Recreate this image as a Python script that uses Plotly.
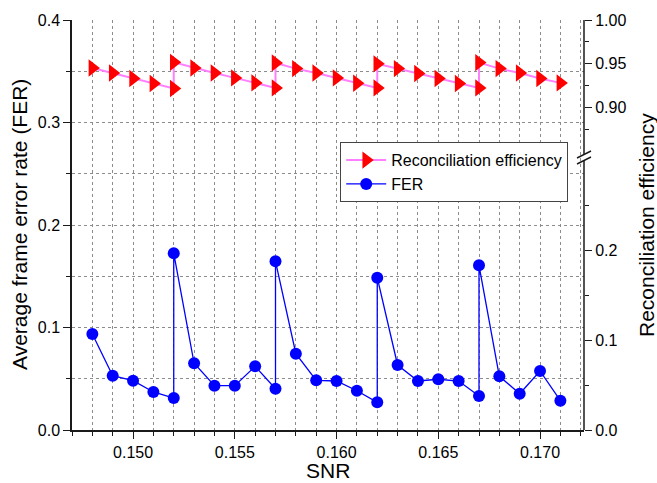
import plotly.graph_objects as go

# ---------------- data ----------------
snr = [0.148, 0.149, 0.150, 0.151, 0.152, 0.152, 0.153, 0.154, 0.155, 0.156,
       0.157, 0.157, 0.158, 0.159, 0.160, 0.161, 0.162, 0.162, 0.163, 0.164,
       0.165, 0.166, 0.167, 0.167, 0.168, 0.169, 0.170, 0.171]
fer = [0.0937, 0.0530, 0.0481, 0.0371, 0.0312, 0.1724, 0.0651, 0.0432, 0.0432, 0.0621,
       0.0403, 0.1646, 0.0744, 0.0485, 0.0478, 0.0383, 0.0270, 0.1486, 0.0634, 0.0478,
       0.0495, 0.0478, 0.0332, 0.1607, 0.0524, 0.0354, 0.0576, 0.0286]
eff = [0.9452, 0.9395, 0.9332, 0.9275, 0.9218, 0.9517, 0.9452, 0.9395, 0.9339, 0.9282,
       0.9225, 0.9510, 0.9445, 0.9395, 0.9339, 0.9278, 0.9225, 0.9500, 0.9445, 0.9389,
       0.9332, 0.9275, 0.9225, 0.9514, 0.9445, 0.9395, 0.9332, 0.9282]

x_ticks = [0.150, 0.155, 0.160, 0.165, 0.170]
left_ticks = [0.0, 0.1, 0.2, 0.3, 0.4]
right_low_ticks = [0.0, 0.1, 0.2]
right_up_ticks = [0.90, 0.95, 1.00]

# ---------------- geometry ----------------
W, H = 657, 483
L, R, T, B = 72, 73, 20, 53
pw, ph = W - L - R, H - T - B

def fx(px):
    return (px - L) / pw

def fy(py):
    return (H - B - py) / ph

FONT = "Liberation Sans, Arial, sans-serif"
GRID = "#8c8c8c"
AX = "#1a1a1a"

# right axis scales (broken axis): lower part 0..0.3 up to the break,
# upper part 0.847..1.0 above the break
BREAK_LO_PX, BREAK_HI_PX = 160, 154
low_top = 0.3 / fy(BREAK_LO_PX)                 # full-height range of lower scale
up_lo, up_hi = 0.847, 1.0
up_bottom = up_hi - (up_hi - up_lo) / (1 - fy(BREAK_HI_PX))

fig = go.Figure()
# empty trace so that the lower right axis gets drawn
fig.add_trace(go.Scatter(x=[], y=[], xaxis="x", yaxis="y2", mode="lines",
                         showlegend=False, hoverinfo="skip"))
fig.add_trace(go.Scatter(
    x=snr, y=eff, xaxis="x", yaxis="y3", mode="lines+markers",
    name="Reconciliation efficiency",
    line=dict(color="#ff80ff", width=2),
    marker=dict(symbol="triangle-right", color="#ff0000", size=15),
    cliponaxis=False,
))
fig.add_trace(go.Scatter(
    x=snr, y=fer, xaxis="x", yaxis="y", mode="lines+markers",
    name="FER",
    line=dict(color="#0000ff", width=1.3),
    marker=dict(symbol="circle", color="#0000ff", size=12),
    cliponaxis=False,
))

xr = [0.147, 0.17216]
common_tick = dict(tickfont=dict(family=FONT, size=16, color="black"))

fig.update_layout(
    width=W, height=H,
    margin=dict(l=L, r=R, t=T, b=B),
    paper_bgcolor="white", plot_bgcolor="white",
    font=dict(family=FONT, color="black"),
    showlegend=True,
    legend=dict(
        x=fx(568), y=fy(142), xanchor="right", yanchor="top",
        bgcolor="white", bordercolor="#444", borderwidth=1.2,
        font=dict(family=FONT, size=16, color="black"),
        tracegroupgap=0, itemwidth=40, traceorder="normal",
    ),
    xaxis=dict(
        range=xr, domain=[0, 1], anchor="y",
        tickvals=x_ticks, ticktext=[f"{v:.3f}" for v in x_ticks],
        ticks="outside", ticklen=7, tickwidth=1.3, tickcolor=AX,
        showline=True, linecolor=AX, linewidth=1.5,
        showgrid=True, gridcolor=GRID, griddash="3px,3px", gridwidth=1,
        minor=dict(dtick=0.001, tick0=0.0, ticks="outside", ticklen=4,
                   tickwidth=1.2, tickcolor=AX,
                   showgrid=True, gridcolor=GRID, griddash="3px,3px", gridwidth=1),
        zeroline=False, **common_tick,
    ),
    xaxis2=dict(
        range=xr, overlaying="x", side="top", anchor="y",
        tickvals=x_ticks, showticklabels=False,
        ticks="inside", ticklen=7, tickwidth=1.3, tickcolor=AX,
        showline=True, linecolor=AX, linewidth=1.5, showgrid=False,
        minor=dict(dtick=0.001, tick0=0.0, ticks="inside", ticklen=4,
                   tickwidth=1.2, tickcolor=AX, showgrid=False),
        zeroline=False,
    ),
    yaxis=dict(
        range=[0, 0.4], domain=[0, 1], anchor="x", side="left",
        tickvals=left_ticks, ticktext=[f"{v:.1f}" for v in left_ticks],
        ticks="outside", ticklen=7, tickwidth=1.3, tickcolor=AX,
        showline=True, linecolor=AX, linewidth=1.5,
        showgrid=True, gridcolor=GRID, griddash="3px,3px", gridwidth=1,
        minor=dict(dtick=0.05, tick0=0.0, ticks="outside", ticklen=4,
                   tickwidth=1.2, tickcolor=AX,
                   showgrid=True, gridcolor=GRID, griddash="3px,3px", gridwidth=1),
        zeroline=False, **common_tick,
    ),
    yaxis2=dict(
        range=[0, low_top], overlaying="y", anchor="x", side="right",
        tickvals=right_low_ticks, ticktext=[f"{v:.1f}" for v in right_low_ticks],
        ticks="outside", ticklen=7, tickwidth=1.3, tickcolor=AX,
        showline=False, showgrid=False,
        minor=dict(tickvals=[0.05, 0.15, 0.25], ticks="outside", ticklen=4,
                   tickwidth=1.2, tickcolor=AX, showgrid=False),
        zeroline=False, **common_tick,
    ),
    yaxis3=dict(
        range=[up_bottom, up_hi], overlaying="y", anchor="x", side="right",
        tickvals=right_up_ticks, ticktext=[f"{v:.2f}" for v in right_up_ticks],
        ticks="outside", ticklen=7, tickwidth=1.3, tickcolor=AX,
        showline=False, showgrid=False,
        minor=dict(tickvals=[0.875, 0.925, 0.975], ticks="outside", ticklen=4,
                   tickwidth=1.2, tickcolor=AX, showgrid=False),
        zeroline=False, **common_tick,
    ),
)

# right axis line with a break
fig.add_shape(type="line", xref="paper", yref="paper", x0=1, x1=1,
              y0=0, y1=fy(BREAK_LO_PX), line=dict(color=AX, width=1.5))
fig.add_shape(type="line", xref="paper", yref="paper", x0=1, x1=1,
              y0=fy(BREAK_HI_PX), y1=1, line=dict(color=AX, width=1.5))
# axis-break marks
for y0 in (158, 164):
    fig.add_shape(type="line", xref="paper", yref="paper",
                  x0=fx(577), y0=fy(y0), x1=fx(591), y1=fy(y0 - 7),
                  line=dict(color=AX, width=1.5))

# axis titles
fig.add_annotation(text="Average frame error rate (FER)", xref="paper", yref="paper",
                   x=fx(19), y=0.5, textangle=-90, showarrow=False,
                   xanchor="center", yanchor="middle",
                   font=dict(family=FONT, size=21, color="black"))
fig.add_annotation(text="Reconciliation efficiency", xref="paper", yref="paper",
                   x=fx(646), y=0.5, textangle=-90, showarrow=False,
                   xanchor="center", yanchor="middle",
                   font=dict(family=FONT, size=21, color="black"))
fig.add_annotation(text="SNR", xref="paper", yref="paper",
                   x=0.5, y=fy(470), showarrow=False,
                   xanchor="center", yanchor="middle",
                   font=dict(family=FONT, size=21, color="black"))

fig.write_html("out.html", config={"displayModeBar": False},
               post_script="document.body.style.margin='0px';document.body.style.overflow='hidden';")
